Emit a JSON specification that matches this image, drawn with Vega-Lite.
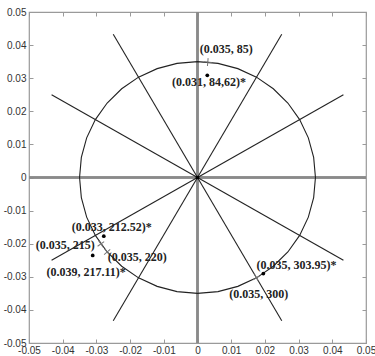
{
  "$schema": "https://vega.github.io/schema/vega-lite/v6.json",
  "width": 337,
  "height": 331,
  "autosize": {"type": "none"},
  "padding": {"left": 29, "top": 12, "right": 9, "bottom": 13},
  "background": "white",
  "config": {
    "view": {"stroke": "#9a9a9a", "strokeWidth": 1.2},
    "axis": {
      "grid": false,
      "domain": false,
      "tickColor": "#9a9a9a",
      "tickSize": -4,
      "labelFont": "Liberation Sans",
      "labelFontSize": 10,
      "labelColor": "#333",
      "title": null
    }
  },
  "datasets": {
    "circle": [
      {"a": 0, "x": 0.035, "y": 0},
      {"a": 10, "x": 0.034468, "y": 0.006078},
      {"a": 20, "x": 0.032889, "y": 0.011971},
      {"a": 30, "x": 0.030311, "y": 0.0175},
      {"a": 40, "x": 0.026811, "y": 0.022498},
      {"a": 50, "x": 0.022498, "y": 0.026811},
      {"a": 60, "x": 0.0175, "y": 0.030311},
      {"a": 70, "x": 0.011971, "y": 0.032889},
      {"a": 80, "x": 0.006078, "y": 0.034468},
      {"a": 90, "x": 0, "y": 0.035},
      {"a": 100, "x": -0.006078, "y": 0.034468},
      {"a": 110, "x": -0.011971, "y": 0.032889},
      {"a": 120, "x": -0.0175, "y": 0.030311},
      {"a": 130, "x": -0.022498, "y": 0.026811},
      {"a": 140, "x": -0.026811, "y": 0.022498},
      {"a": 150, "x": -0.030311, "y": 0.0175},
      {"a": 160, "x": -0.032889, "y": 0.011971},
      {"a": 170, "x": -0.034468, "y": 0.006078},
      {"a": 180, "x": -0.035, "y": 0},
      {"a": 190, "x": -0.034468, "y": -0.006078},
      {"a": 200, "x": -0.032889, "y": -0.011971},
      {"a": 210, "x": -0.030311, "y": -0.0175},
      {"a": 220, "x": -0.026811, "y": -0.022498},
      {"a": 230, "x": -0.022498, "y": -0.026811},
      {"a": 240, "x": -0.0175, "y": -0.030311},
      {"a": 250, "x": -0.011971, "y": -0.032889},
      {"a": 260, "x": -0.006078, "y": -0.034468},
      {"a": 270, "x": 0, "y": -0.035},
      {"a": 280, "x": 0.006078, "y": -0.034468},
      {"a": 290, "x": 0.011971, "y": -0.032889},
      {"a": 300, "x": 0.0175, "y": -0.030311},
      {"a": 310, "x": 0.022498, "y": -0.026811},
      {"a": 320, "x": 0.026811, "y": -0.022498},
      {"a": 330, "x": 0.030311, "y": -0.0175},
      {"a": 340, "x": 0.032889, "y": -0.011971},
      {"a": 350, "x": 0.034468, "y": -0.006078},
      {"a": 360, "x": 0.035, "y": 0}
    ],
    "spokes": [
      {"x": -0.0433, "y": -0.025, "x2": 0.0433, "y2": 0.025},
      {"x": -0.025, "y": -0.0433, "x2": 0.025, "y2": 0.0433},
      {"x": -0.025, "y": 0.0433, "x2": 0.025, "y2": -0.0433},
      {"x": -0.0433, "y": 0.025, "x2": 0.0433, "y2": -0.025}
    ],
    "nominal": [
      {"deg": 85, "x": 0.00305, "y": 0.03487},
      {"deg": 215, "x": -0.02867, "y": -0.02007},
      {"deg": 220, "x": -0.02681, "y": -0.0225},
      {"deg": 300, "x": 0.0175, "y": -0.03031}
    ],
    "measured": [
      {"x": 0.00291, "y": 0.03086},
      {"x": -0.0278, "y": -0.01774},
      {"x": -0.0311, "y": -0.02353},
      {"x": 0.01954, "y": -0.02904},
      {"x": 0, "y": 0}
    ],
    "labels": [
      {"t": "(0.035, 85)", "x": 0.0007, "y": 0.0387},
      {"t": "(0.031, 84,62)*", "x": -0.0076, "y": 0.0288},
      {"t": "(0.033, 212.52)*", "x": -0.0373, "y": -0.01495},
      {"t": "(0.035, 215)", "x": -0.048, "y": -0.0205},
      {"t": "(0.035, 220)", "x": -0.0266, "y": -0.024},
      {"t": "(0.039, 217.11)*", "x": -0.0448, "y": -0.0285},
      {"t": "(0.035, 303.95)*", "x": 0.0175, "y": -0.0263},
      {"t": "(0.035, 300)", "x": 0.0094, "y": -0.0351}
    ]
  },
  "layer": [
    {
      "data": {"name": "spokes"},
      "mark": {"type": "rule", "color": "#8a8a8a", "strokeWidth": 2},
      "encoding": {
        "x": {"datum": 0, "type": "quantitative",
          "scale": {"domain": [-0.05, 0.05], "nice": false, "zero": false},
          "axis": {"orient": "bottom", "values": [-0.05, -0.04, -0.03, -0.02, -0.01, 0, 0.01, 0.02, 0.03, 0.04, 0.05], "labelExpr": "'' + datum.value", "labelPadding": 6, "labelFlush": false}
        }
      }
    },
    {
      "data": {"name": "spokes"},
      "mark": {"type": "rule", "color": "#8a8a8a", "strokeWidth": 2},
      "encoding": {
        "y": {"datum": 0, "type": "quantitative",
          "scale": {"domain": [-0.05, 0.05], "nice": false, "zero": false},
          "axis": {"orient": "left", "values": [-0.05, -0.04, -0.03, -0.02, -0.01, 0, 0.01, 0.02, 0.03, 0.04, 0.05], "labelExpr": "'' + datum.value", "labelPadding": 7, "labelFlush": false}
        }
      }
    },
    {
      "data": {"name": "spokes"},
      "mark": {"type": "rule", "color": "#222", "strokeWidth": 1.1},
      "encoding": {
        "x": {"field": "x", "type": "quantitative", "axis": null},
        "y": {"field": "y", "type": "quantitative", "axis": null},
        "x2": {"field": "x2"},
        "y2": {"field": "y2"}
      }
    },
    {
      "data": {"name": "circle"},
      "mark": {"type": "line", "color": "#222", "strokeWidth": 1.1},
      "encoding": {
        "x": {"field": "x", "type": "quantitative", "axis": null},
        "y": {"field": "y", "type": "quantitative", "axis": null},
        "order": {"field": "a", "type": "quantitative"}
      }
    },
    {
      "data": {"name": "nominal"},
      "mark": {"type": "point", "shape": "M-1,0H1M0,-1V1", "filled": false, "size": 64, "color": "#777", "strokeWidth": 1, "opacity": 1},
      "encoding": {
        "x": {"field": "x", "type": "quantitative", "axis": null},
        "y": {"field": "y", "type": "quantitative", "axis": null},
        "angle": {"field": "deg", "type": "quantitative", "scale": {"domain": [0, 360], "range": [360, 0]}}
      }
    },
    {
      "data": {"name": "measured"},
      "mark": {"type": "point", "shape": "circle", "filled": true, "size": 14, "color": "#000", "opacity": 1},
      "encoding": {
        "x": {"field": "x", "type": "quantitative", "axis": null},
        "y": {"field": "y", "type": "quantitative", "axis": null}
      }
    },
    {
      "data": {"name": "labels"},
      "mark": {"type": "text", "align": "left", "baseline": "middle", "font": "Liberation Serif", "fontWeight": "bold", "fontSize": 12, "color": "#222"},
      "encoding": {
        "x": {"field": "x", "type": "quantitative", "axis": null},
        "y": {"field": "y", "type": "quantitative", "axis": null},
        "text": {"field": "t"}
      }
    },
    {
      "data": {"name": "spokes"},
      "mark": {"type": "rule", "opacity": 0},
      "encoding": {
        "x": {"datum": 0, "type": "quantitative", "axis": {"orient": "top", "values": [-0.05, -0.04, -0.03, -0.02, -0.01, 0, 0.01, 0.02, 0.03, 0.04, 0.05], "labels": false}},
        "y": {"datum": 0, "type": "quantitative", "axis": {"orient": "right", "values": [-0.05, -0.04, -0.03, -0.02, -0.01, 0, 0.01, 0.02, 0.03, 0.04, 0.05], "labels": false}}
      }
    }
  ],
  "resolve": {"axis": {"x": "independent", "y": "independent"}}
}
